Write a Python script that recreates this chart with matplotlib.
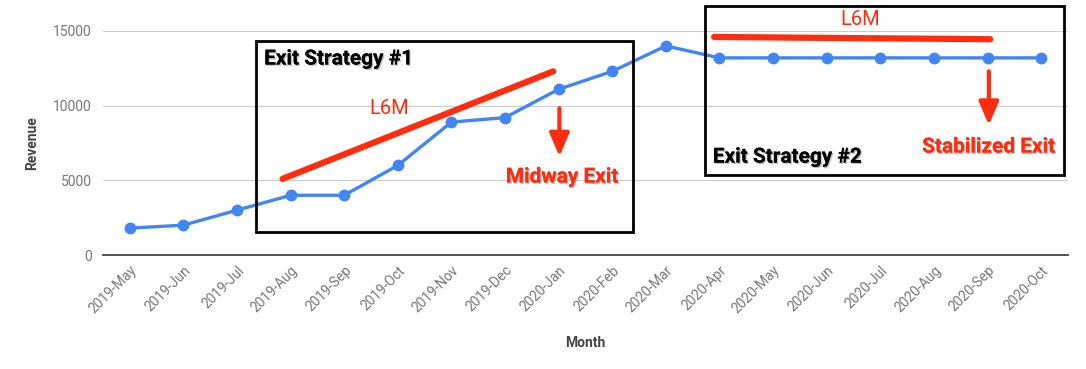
import matplotlib.pyplot as plt
import matplotlib.patheffects as pe
from matplotlib.patches import Rectangle

# Monthly revenue
months = ['2019-May', '2019-Jun', '2019-Jul', '2019-Aug', '2019-Sep', '2019-Oct',
          '2019-Nov', '2019-Dec', '2020-Jan', '2020-Feb', '2020-Mar', '2020-Apr',
          '2020-May', '2020-Jun', '2020-Jul', '2020-Aug', '2020-Sep', '2020-Oct']
revenue = [1800, 2000, 3000, 4000, 4000, 6000, 8900, 9200, 11100, 12300, 14000,
           13200, 13200, 13200, 13200, 13200, 13200, 13200]

# L6M trend lines (x in month index, y in revenue)
trend1_x = [2.85, 7.9]
trend1_y = [5100, 12300]
trend2_x = [10.9, 16.05]
trend2_y = [14600, 14450]

blue = '#4285F4'
red = '#FF2D0F'
plt.rcParams['font.family'] = ['Roboto', 'DejaVu Sans']

fig = plt.figure(figsize=(10.86, 3.69), dpi=100)
ax = fig.add_axes([0.0948, 0.3089, 0.8886, 0.6071])

x = range(len(months))
ax.plot(x, revenue, color=blue, lw=2.4, marker='o', ms=7.5, zorder=3)
ax.plot(trend1_x, trend1_y, color=red, lw=4.5, solid_capstyle='round', zorder=4)
ax.plot(trend2_x, trend2_y, color=red, lw=4.5, solid_capstyle='round', zorder=4, clip_on=False)

ax.set_xlim(-0.5, len(months) - 0.5)
ax.set_ylim(0, 15000)
ax.set_yticks([0, 5000, 10000, 15000])
ax.set_xticks(list(x))
ax.set_xticklabels(months, rotation=45, ha='right', rotation_mode='anchor')
ax.tick_params(axis='both', length=0, colors='#777777', labelsize=10)
ax.tick_params(axis='x', pad=6)
ax.tick_params(axis='y', pad=8)
ax.grid(axis='y', color='#cccccc', lw=0.8)
ax.set_axisbelow(True)
for s in ['top', 'right', 'left']:
    ax.spines[s].set_visible(False)
ax.spines['bottom'].set_color('#333333')
ax.spines['bottom'].set_linewidth(1.2)

ax.set_xlabel('Month', fontweight='bold', color='#444444', fontsize=10, labelpad=14)
ax.set_ylabel('Revenue', fontweight='bold', color='#444444', fontsize=10, labelpad=10)

# Annotation boxes (axes fraction)
shadow = [pe.withSimplePatchShadow(offset=(1, -1), shadow_rgbFace='#999999', alpha=0.6), pe.Normal()]
ax.add_patch(Rectangle((0.159, 0.103), 0.390, 0.853, transform=ax.transAxes,
                       fill=False, ec='black', lw=2, clip_on=False, zorder=5))
ax.add_patch(Rectangle((0.624, 0.357), 0.372, 0.754, transform=ax.transAxes,
                       fill=False, ec='black', lw=2, clip_on=False, zorder=5))

ax.text(0.167, 0.875, 'Exit Strategy #1', transform=ax.transAxes, fontsize=15,
        fontweight='bold', va='center', path_effects=shadow)
ax.text(0.632, 0.437, 'Exit Strategy #2', transform=ax.transAxes, fontsize=15,
        fontweight='bold', va='center', path_effects=shadow)
ax.text(0.297, 0.655, 'L6M', transform=ax.transAxes, fontsize=14.5, color=red,
        ha='center', va='center')
ax.text(0.785, 1.05, 'L6M', transform=ax.transAxes, fontsize=14.5, color=red,
        ha='center', va='center')
ax.text(0.476, 0.348, 'Midway Exit', transform=ax.transAxes, fontsize=15, color=red,
        fontweight='bold', ha='center', va='center', path_effects=shadow)
ax.text(0.918, 0.482, 'Stabilized Exit', transform=ax.transAxes, fontsize=15, color=red,
        fontweight='bold', ha='center', va='center', path_effects=shadow)

arrow = dict(arrowstyle='-|>,head_width=0.6,head_length=1.4', color=red, lw=3,
             shrinkA=0, shrinkB=0)
ax.annotate('', xy=(0.473, 0.44), xytext=(0.473, 0.655), xycoords='axes fraction',
            arrowprops=arrow)
ax.annotate('', xy=(0.918, 0.58), xytext=(0.918, 0.82), xycoords='axes fraction',
            arrowprops=arrow)

fig.savefig('out.png', dpi=100)
